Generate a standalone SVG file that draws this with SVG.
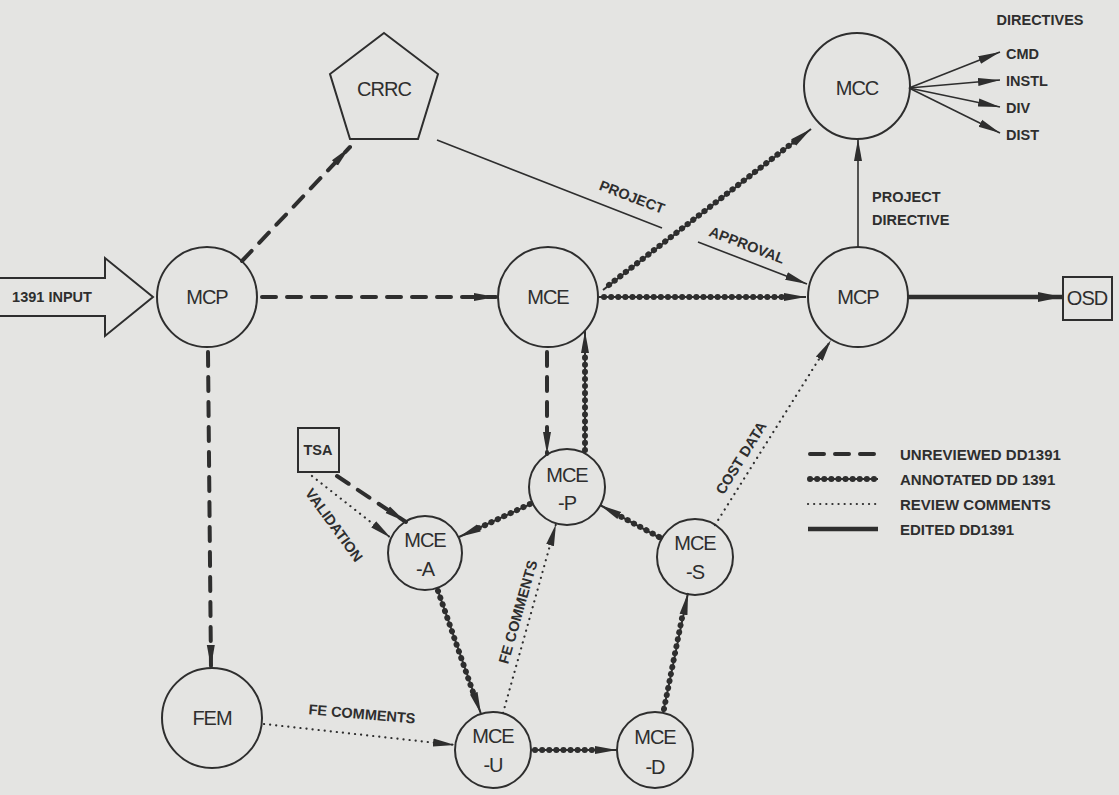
<svg xmlns="http://www.w3.org/2000/svg" width="1119" height="795" viewBox="0 0 1119 795">
<defs>
<marker id="ah" markerUnits="userSpaceOnUse" markerWidth="24" markerHeight="10" refX="22" refY="5" orient="auto"><path d="M0,1 L22,5 L0,9 Z" fill="#2e2e2e"/></marker>
<marker id="ahb" markerUnits="userSpaceOnUse" markerWidth="26" markerHeight="12" refX="24" refY="6" orient="auto"><path d="M0,1 L24,6 L0,11 Z" fill="#2e2e2e"/></marker>
</defs>
<style>
.bg{fill:#e4e4e2}
.nd{fill:none;stroke:#2e2e2e;stroke-width:2}
.t{font-family:"Liberation Sans",Arial,sans-serif;fill:#2e2e2e;text-anchor:middle;dominant-baseline:central}
.nl{font-size:20px;letter-spacing:-1px}
.sl{font-size:14.5px;font-weight:bold}
.lg{font-size:15px;font-weight:bold;text-anchor:start}
.dash{stroke:#2e2e2e;stroke-width:4;stroke-dasharray:14 11;stroke-linecap:round;fill:none}
.dot{stroke:#2e2e2e;stroke-width:2.2;stroke-dasharray:0.1 6;stroke-linecap:round;fill:none}
.sol{stroke:#2e2e2e;stroke-width:1.6;fill:none}
.bold{stroke:#2e2e2e;stroke-width:4.5;fill:none}
.abase{stroke:#2e2e2e;stroke-width:2;fill:none}
.bead{stroke:#2e2e2e;stroke-width:6;stroke-dasharray:0.1 7;stroke-linecap:round;fill:none}
</style>
<rect class="bg" x="0" y="0" width="1119" height="795"/>

<g id="connectors">
<!-- unreviewed -->
<line class="dash" x1="242" y1="261" x2="350" y2="147" marker-end="url(#ah)"/>
<line class="dash" x1="262" y1="297" x2="496" y2="297" marker-end="url(#ah)"/>
<line class="dash" x1="208" y1="352" x2="211" y2="667" marker-end="url(#ah)"/>
<line class="dash" x1="547" y1="352" x2="547" y2="454" marker-end="url(#ah)"/>
<line class="dash" x1="337" y1="476" x2="406" y2="522" marker-end="url(#ah)"/>
<!-- review comments -->
<line class="dot" x1="312" y1="476" x2="391" y2="538" marker-end="url(#ah)"/>
<line class="dot" x1="503" y1="713" x2="556" y2="524" marker-end="url(#ah)"/>
<line class="dot" x1="715" y1="525" x2="831" y2="340" marker-end="url(#ah)"/>
<line class="dot" x1="264" y1="724" x2="455" y2="745" marker-end="url(#ah)"/>
<!-- annotated -->
<line class="abase" x1="603" y1="290" x2="811" y2="129" marker-end="url(#ah)"/>
<line class="bead" x1="609" y1="285" x2="795" y2="141"/>
<line class="abase" x1="599" y1="297" x2="806" y2="297" marker-end="url(#ah)"/>
<line class="bead" x1="604" y1="297" x2="786" y2="297"/>
<line class="abase" x1="585" y1="453" x2="585" y2="331" marker-end="url(#ah)"/>
<line class="bead" x1="585" y1="450" x2="585" y2="351"/>
<line class="abase" x1="533" y1="503" x2="459" y2="537" marker-end="url(#ah)"/>
<line class="bead" x1="530" y1="504" x2="477" y2="529"/>
<line class="abase" x1="662" y1="539" x2="600" y2="505" marker-end="url(#ah)"/>
<line class="bead" x1="659" y1="537" x2="618" y2="515"/>
<line class="abase" x1="437" y1="588" x2="481" y2="714" marker-end="url(#ah)"/>
<line class="bead" x1="438" y1="591" x2="474" y2="695"/>
<line class="abase" x1="531" y1="750" x2="617" y2="750" marker-end="url(#ah)"/>
<line class="bead" x1="535" y1="750" x2="597" y2="750"/>
<line class="abase" x1="663" y1="713" x2="688" y2="593" marker-end="url(#ah)"/>
<line class="bead" x1="664" y1="709" x2="683" y2="613"/>
<!-- edited -->
<line class="bold" x1="908" y1="297" x2="1062" y2="297" marker-end="url(#ahb)"/>
<!-- plain -->
<line class="sol" x1="437" y1="140" x2="662" y2="228"/>
<line class="sol" x1="698" y1="242" x2="807" y2="284" marker-end="url(#ah)"/>
<line class="sol" x1="858" y1="247" x2="858" y2="139" marker-end="url(#ah)"/>
<line class="sol" x1="909" y1="88" x2="1000" y2="52" marker-end="url(#ah)"/>
<line class="sol" x1="909" y1="88" x2="1000" y2="80" marker-end="url(#ah)"/>
<line class="sol" x1="909" y1="88" x2="1000" y2="107" marker-end="url(#ah)"/>
<line class="sol" x1="909" y1="88" x2="1000" y2="133" marker-end="url(#ah)"/>
<!-- connector labels -->
<text class="t sl" transform="translate(632,197) rotate(21)">PROJECT</text>
<text class="t sl" transform="translate(747,245) rotate(21)">APPROVAL</text>
<text class="t sl" x="872" y="197" style="text-anchor:start">PROJECT</text>
<text class="t sl" x="872" y="220" style="text-anchor:start">DIRECTIVE</text>
<text class="t sl" transform="translate(518,612) rotate(-74)">FE COMMENTS</text>
<text class="t sl" transform="translate(741,458) rotate(-58)">COST DATA</text>
<text class="t sl" transform="translate(334,525) rotate(54)">VALIDATION</text>
<text class="t sl" transform="translate(362,714) rotate(5)">FE COMMENTS</text>
</g>

<g id="input">
<path class="nd" d="M0,278 L105,278 L105,258 L153,297 L105,336 L105,316 L0,316"/>
<text class="t sl" x="52" y="297">1391 INPUT</text>
</g>
<g id="mcp1"><circle class="nd" cx="207" cy="297" r="50"/><text class="t nl" x="207" y="297">MCP</text></g>
<g id="crrc"><polygon class="nd" points="384,33 438,74 418,139 350,139 330,74"/><text class="t nl" x="384" y="89">CRRC</text></g>
<g id="mce"><circle class="nd" cx="548" cy="297" r="50"/><text class="t nl" x="548" y="297">MCE</text></g>
<g id="mcp2"><circle class="nd" cx="858" cy="297" r="50"/><text class="t nl" x="858" y="297">MCP</text></g>
<g id="mcc"><circle class="nd" cx="857" cy="86" r="53"/><text class="t nl" x="857" y="88">MCC</text></g>
<g id="osd"><rect class="nd" x="1063" y="277" width="49" height="43"/><text class="t nl" x="1087" y="298">OSD</text></g>
<g id="mcep"><circle class="nd" cx="567" cy="487" r="38"/><text class="t nl" x="567" y="475">MCE</text><text class="t nl" x="567" y="503">-P</text></g>
<g id="mcea"><circle class="nd" cx="425" cy="553" r="37"/><text class="t nl" x="425" y="540">MCE</text><text class="t nl" x="425" y="569">-A</text></g>
<g id="mces"><circle class="nd" cx="695" cy="557" r="38"/><text class="t nl" x="695" y="543">MCE</text><text class="t nl" x="695" y="572">-S</text></g>
<g id="mceu"><circle class="nd" cx="493" cy="750" r="38"/><text class="t nl" x="493" y="736">MCE</text><text class="t nl" x="493" y="765">-U</text></g>
<g id="mced"><circle class="nd" cx="655" cy="750" r="38"/><text class="t nl" x="655" y="737">MCE</text><text class="t nl" x="655" y="767">-D</text></g>
<g id="fem"><circle class="nd" cx="212" cy="718" r="50"/><text class="t nl" x="212" y="718">FEM</text></g>
<g id="tsa"><rect class="nd" x="298" y="428" width="41" height="44"/><text class="t sl" x="318" y="450">TSA</text></g>

<g id="directives">
<text class="t sl" x="1040" y="20">DIRECTIVES</text>
<text class="t sl" x="1006" y="54" style="text-anchor:start">CMD</text>
<text class="t sl" x="1006" y="81" style="text-anchor:start">INSTL</text>
<text class="t sl" x="1006" y="108" style="text-anchor:start">DIV</text>
<text class="t sl" x="1006" y="135" style="text-anchor:start">DIST</text>
</g>

<g id="legend">
<line class="dash" x1="810" y1="454" x2="878" y2="454"/>
<line class="abase" x1="808" y1="479" x2="878" y2="479"/>
<line class="bead" x1="810" y1="479" x2="878" y2="479"/>
<line class="dot" x1="808" y1="504" x2="878" y2="504"/>
<line class="bold" x1="808" y1="529" x2="878" y2="529"/>
<text class="t lg" x="900" y="454">UNREVIEWED DD1391</text>
<text class="t lg" x="900" y="479">ANNOTATED DD 1391</text>
<text class="t lg" x="900" y="504">REVIEW COMMENTS</text>
<text class="t lg" x="900" y="529">EDITED DD1391</text>
</g>
</svg>
